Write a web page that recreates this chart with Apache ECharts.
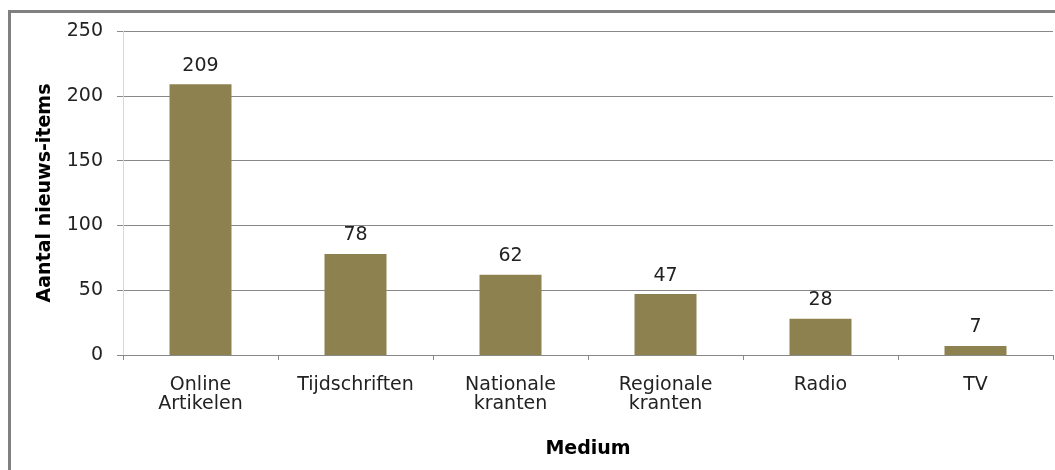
<!DOCTYPE html>
<html>
<head>
<meta charset="utf-8">
<script src="https://cdn.jsdelivr.net/npm/echarts@6/dist/echarts.min.js"></script>
<style>
  html, body { margin: 0; padding: 0; background: #fff; }
  #chart { width: 1055px; height: 470px; }
</style>
</head>
<body>
<div id="chart"></div>
<script>
// data
const media = ['Online\nArtikelen', 'Tijdschriften', 'Nationale\nkranten', 'Regionale\nkranten', 'Radio', 'TV']
const counts = [209, 78, 62, 47, 28, 7]

const font = 'DejaVu Sans'

const chart = echarts.init(document.getElementById('chart'))
const option = {
  animation: false,
  textStyle: { fontFamily: font },
  graphic: [{
    type: 'rect',
    shape: { x: 9.5, y: 11.5, width: 1200, height: 600 },
    style: { fill: 'none', stroke: '#808080', lineWidth: 3 },
    silent: true
  }],
  grid: { left: 123, right: 2, top: 31, bottom: 115 },
  xAxis: {
    type: 'category',
    data: media,
    name: 'Medium',
    nameLocation: 'middle',
    nameGap: 85,
    nameTextStyle: { fontWeight: 'bold', fontSize: 19, color: '#000', fontFamily: font },
    axisLine: { lineStyle: { color: '#888', width: 1 } },
    axisTick: { show: true, length: 5, lineStyle: { color: '#888' } },
    axisLabel: { fontSize: 19, color: '#222', margin: 21, lineHeight: 19, fontFamily: font }
  },
  yAxis: {
    type: 'value',
    min: 0,
    max: 250,
    interval: 50,
    name: 'Aantal nieuws-items',
    nameLocation: 'middle',
    nameGap: 68,
    nameTextStyle: { fontWeight: 'bold', fontSize: 19, color: '#000', fontFamily: font },
    axisLine: { show: true, lineStyle: { color: '#d8d8d8' } },
    axisTick: { show: true, length: 6, lineStyle: { color: '#888' } },
    axisLabel: { fontSize: 19, color: '#222', margin: 20, fontFamily: font },
    splitLine: { lineStyle: { color: '#888', width: 1 } }
  },
  series: [{
    type: 'bar',
    data: counts,
    barWidth: '40%',
    itemStyle: { color: '#8e8150' },
    label: {
      show: true,
      position: 'top',
      distance: 9,
      fontSize: 19,
      color: '#222',
      fontFamily: font
    }
  }]
}
chart.setOption(option)
</script>
</body>
</html>
